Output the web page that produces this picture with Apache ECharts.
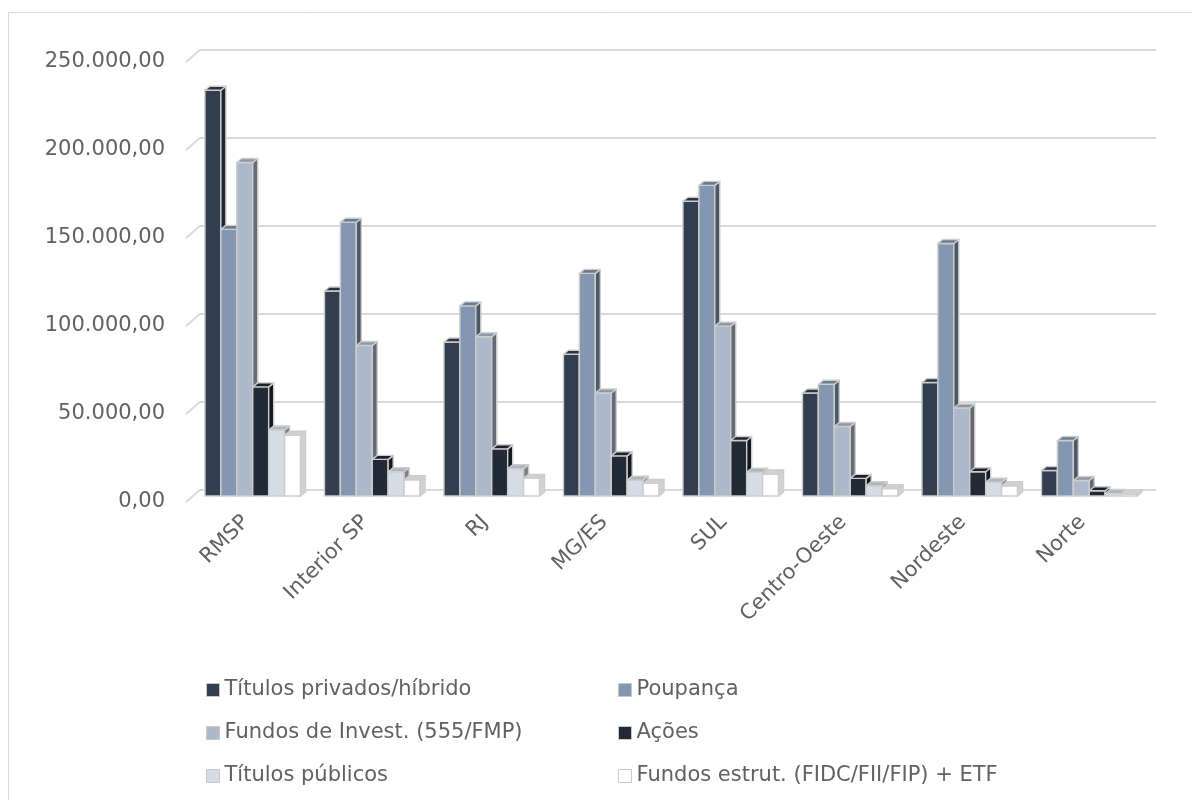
<!DOCTYPE html>
<html>
<head>
<meta charset="utf-8">
<script src="https://cdn.jsdelivr.net/npm/echarts@6/dist/echarts.min.js"></script>
<style>
  html, body { margin: 0; padding: 0; background: #ffffff; }
  #chart { width: 1192px; height: 800px; }
</style>
</head>
<body>
<div id="chart"></div>
<script>
// Regions
const categories = ['RMSP', 'Interior SP', 'RJ', 'MG/ES', 'SUL', 'Centro-Oeste', 'Nordeste', 'Norte'];

// Investment types
const seriesNames = [
  'Títulos privados/híbrido',
  'Poupança',
  'Fundos de Invest. (555/FMP)',
  'Ações',
  'Títulos públicos',
  'Fundos estrut. (FIDC/FII/FIP) + ETF'
];

// Balances per region (R$ mil)
const titulosPrivados = [230500, 116500, 87500, 80500, 167500, 58500, 64500, 14500];
const poupanca        = [151500, 155500, 108000, 126500, 176500, 63500, 143500, 31500];
const fundosInvest    = [189500, 85500, 90500, 58500, 96500, 39500, 50000, 8800];
const acoes           = [62000, 20800, 26800, 22800, 31500, 10000, 13800, 3000];
const titulosPublicos = [37500, 13800, 15500, 9000, 13500, 5800, 7800, 1400];
const fundosEstrut    = [34500, 9200, 10000, 7200, 12500, 4200, 5800, 1100];

// Value axis ticks
const yTicks = [0, 50000, 100000, 150000, 200000, 250000];

const seriesValues = [titulosPrivados, poupanca, fundosInvest, acoes, titulosPublicos, fundosEstrut];
const seriesColors = ['#333F50', '#8497B0', '#ADB9CA', '#222A35', '#D6DCE5', '#FFFFFF'];

const FONT = '"DejaVu Sans", sans-serif';
const TEXT_COLOR = '#616161';
const EDGE = '#cdcdcd';

// Perspective offsets (pixels): floor depth and single bar depth
const FLOOR_DX = 14, FLOOR_DY = -12;
const BAR_SHIFT_X = 7, BAR_SHIFT_Y = -6;
const BAR_DX = 5, BAR_DY = -4;

function shade(hex, f) {
  const n = parseInt(hex.slice(1), 16);
  let r = (n >> 16) & 255, g = (n >> 8) & 255, b = n & 255;
  r = Math.round(r * (1 + f)); g = Math.round(g * (1 + f)); b = Math.round(b * (1 + f));
  return 'rgb(' + r + ',' + g + ',' + b + ')';
}

function ptBR(v) {
  const s = Math.round(v).toString().replace(/\B(?=(\d{3})+(?!\d))/g, '.');
  return s + ',00';
}

function barRenderer(sIdx) {
  const color = seriesColors[sIdx];
  const topColor = shade(color, -0.18);
  const sideColor = color === '#FFFFFF' ? '#d2d2d2' : shade(color, -0.42);
  return function (params, api) {
    const ci = api.value(0);
    const v = api.value(1);
    const base = api.coord([ci, 0]);
    const top = api.coord([ci, v]);
    const catW = api.size([1, 0])[0];
    const bw = catW * 0.8 / seriesNames.length;
    const x0 = base[0] - bw * seriesNames.length / 2 + sIdx * bw + BAR_SHIFT_X;
    const y0 = base[1] + BAR_SHIFT_Y;
    const y1 = top[1] + BAR_SHIFT_Y;
    const stroke = { stroke: EDGE, lineWidth: 1.4, lineJoin: 'round' };
    return {
      type: 'group',
      children: [
        {
          type: 'rect',
          shape: { x: x0, y: y1, width: bw, height: y0 - y1 },
          style: Object.assign({ fill: color }, stroke)
        },
        {
          type: 'polygon',
          shape: { points: [[x0 + bw, y0], [x0 + bw + BAR_DX, y0 + BAR_DY], [x0 + bw + BAR_DX, y1 + BAR_DY], [x0 + bw, y1]] },
          style: Object.assign({ fill: sideColor }, stroke)
        },
        {
          type: 'polygon',
          shape: { points: [[x0, y1], [x0 + BAR_DX, y1 + BAR_DY], [x0 + bw + BAR_DX, y1 + BAR_DY], [x0 + bw, y1]] },
          style: Object.assign({ fill: topColor }, stroke)
        }
      ]
    };
  };
}

const barSeries = seriesNames.map((name, s) => ({
  name: name,
  type: 'custom',
  xAxisIndex: 0,
  yAxisIndex: 0,
  coordinateSystem: 'cartesian2d',
  itemStyle: { color: seriesColors[s], borderColor: '#c8c8c8', borderWidth: 1 },
  renderItem: barRenderer(s),
  encode: { x: 0, y: 1 },
  clip: false,
  silent: true,
  z: 3,
  data: seriesValues[s].map((v, i) => [i, v])
}));

// Slanted connectors joining the front tick labels to the back-wall gridlines
const tickConnectors = {
  type: 'custom',
  xAxisIndex: 0,
  yAxisIndex: 0,
  coordinateSystem: 'cartesian2d',
  silent: true,
  clip: false,
  z: 2,
  encode: { x: 0, y: 1 },
  data: yTicks.map(t => [0, t]),
  renderItem: function (params, api) {
    const p = api.coord([0, api.value(1)]);
    const gx = params.coordSys.x;
    return {
      type: 'line',
      shape: { x1: gx, y1: p[1], x2: gx + FLOOR_DX, y2: p[1] + FLOOR_DY },
      style: { stroke: '#d9d9d9', lineWidth: 2 }
    };
  }
};

const chart = echarts.init(document.getElementById('chart'), null, { renderer: 'canvas' });

const legendText = { fontFamily: FONT, fontSize: 21, color: TEXT_COLOR, lineHeight: 22 };

chart.setOption({
  animation: false,
  backgroundColor: '#ffffff',
  textStyle: { fontFamily: FONT },
  graphic: [{
    type: 'rect',
    shape: { x: 8.5, y: 12.5, width: 1200, height: 800 },
    style: { fill: 'none', stroke: '#d9d9d9', lineWidth: 1 },
    silent: true,
    z: 0
  }],
  grid: [
    { left: 186, top: 62, width: 956, height: 440 },
    { left: 186 + FLOOR_DX, top: 62 + FLOOR_DY, width: 956, height: 440 }
  ],
  xAxis: [
    {
      type: 'category',
      gridIndex: 0,
      data: categories,
      axisLine: { show: false },
      axisTick: { show: false },
      axisLabel: {
        interval: 0,
        rotate: 45,
        margin: 17,
        fontFamily: FONT,
        fontSize: 21,
        color: TEXT_COLOR
      }
    },
    {
      type: 'category',
      gridIndex: 1,
      data: categories,
      show: false
    }
  ],
  yAxis: [
    {
      type: 'value',
      gridIndex: 0,
      min: 0,
      max: 250000,
      interval: 50000,
      axisLine: { show: false },
      axisTick: { show: false },
      splitLine: { show: false },
      axisLabel: {
        margin: 21,
        fontFamily: FONT,
        fontSize: 21,
        color: TEXT_COLOR,
        formatter: ptBR
      }
    },
    {
      type: 'value',
      gridIndex: 1,
      min: 0,
      max: 250000,
      interval: 50000,
      axisLine: { show: false },
      axisTick: { show: false },
      axisLabel: { show: false },
      splitLine: { show: true, lineStyle: { color: '#d9d9d9', width: 2 } }
    }
  ],
  legend: [
    {
      orient: 'vertical',
      left: 201,
      top: 674,
      itemWidth: 13,
      itemHeight: 13,
      itemGap: 21,
      icon: 'rect',
      selectedMode: false,
      itemStyle: { borderColor: '#c8c8c8', borderWidth: 1 },
      textStyle: legendText,
      data: [seriesNames[0], seriesNames[2], seriesNames[4]]
    },
    {
      orient: 'vertical',
      left: 613,
      top: 674,
      itemWidth: 13,
      itemHeight: 13,
      itemGap: 21,
      icon: 'rect',
      selectedMode: false,
      itemStyle: { borderColor: '#c8c8c8', borderWidth: 1 },
      textStyle: legendText,
      data: [seriesNames[1], seriesNames[3], seriesNames[5]]
    }
  ],
  series: [tickConnectors].concat(barSeries)
});
</script>
</body>
</html>
